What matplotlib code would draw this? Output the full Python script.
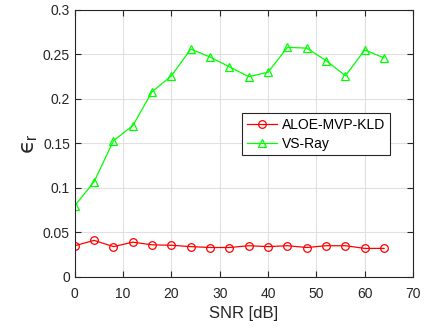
import matplotlib
matplotlib.use('Agg')
import matplotlib.pyplot as plt

plt.rcParams['font.family'] = ['Liberation Sans', 'DejaVu Sans']
plt.rcParams['mathtext.fontset'] = 'custom'
plt.rcParams['mathtext.rm'] = 'Liberation Sans'
plt.rcParams['mathtext.it'] = 'DejaVu Sans'

snr = [0, 4, 8, 12, 16, 20, 24, 28, 32, 36, 40, 44, 48, 52, 56, 60, 64]
aloe = [0.035, 0.041, 0.034, 0.039, 0.036, 0.0355, 0.034, 0.033, 0.033, 0.035, 0.034,
        0.035, 0.033, 0.035, 0.035, 0.032, 0.032]
vsray = [0.080, 0.107, 0.153, 0.170, 0.208, 0.226, 0.256, 0.247, 0.236, 0.225, 0.230,
         0.258, 0.257, 0.243, 0.226, 0.255, 0.246]

fig = plt.figure(figsize=(4.25, 3.3), dpi=100)
ax = fig.add_axes([0.176, 0.161, 0.796, 0.809])

ax.plot(snr, aloe, '-o', color='red', mfc='none', ms=5.5, lw=0.9, mew=0.9, label='ALOE-MVP-KLD')
ax.plot(snr, vsray, '-^', color=(0, 1, 0), mfc='none', ms=6, lw=0.9, mew=0.9, label='VS-Ray')

ax.set_xlim(0, 70)
ax.set_ylim(0, 0.3)
ax.set_xticks(range(0, 71, 10))
ax.set_yticks([0, 0.05, 0.1, 0.15, 0.2, 0.25, 0.3])
ax.set_yticklabels(['0', '0.05', '0.1', '0.15', '0.2', '0.25', '0.3'])
ax.grid(True, color='#e0e0e0', lw=0.8)
ax.set_axisbelow(True)
ax.tick_params(direction='in', top=True, right=True, labelsize=10, colors='#262626', length=4)
ax.tick_params(axis='x', pad=7)
for s in ax.spines.values():
    s.set_color('#262626')
    s.set_linewidth(0.8)

ax.set_xlabel('SNR [dB]', fontsize=12, color='#262626', labelpad=4)
ax.set_ylabel('$\u03f5_\\mathrm{r}$', fontsize=16, color='#262626', labelpad=2)

leg = ax.legend(loc='upper left', bbox_to_anchor=(0.494, 0.612), fontsize=10, fancybox=False,
                edgecolor='#262626', framealpha=1, borderpad=0.35, handlelength=2.2,
                handletextpad=0.35, labelspacing=0.3, borderaxespad=0)
leg.get_frame().set_linewidth(0.8)

fig.savefig('out.png', dpi=100)
